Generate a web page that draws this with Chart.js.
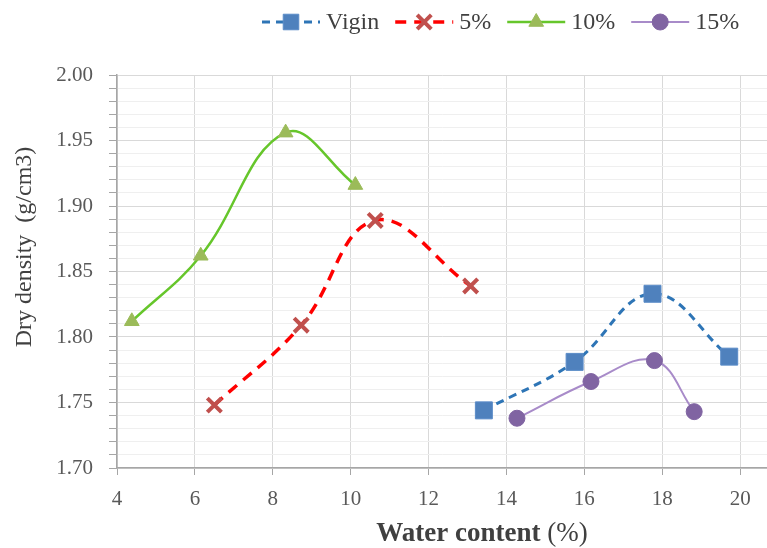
<!DOCTYPE html>
<html>
<head>
<meta charset="utf-8">
<script src="https://cdn.jsdelivr.net/npm/chart.js@4.4.1/dist/chart.umd.min.js"></script>
<style>
  html, body { margin: 0; padding: 0; background: #fff; }
  #wrap { width: 767px; height: 548px; }
</style>
</head>
<body>
<div id="wrap"><canvas id="chart" width="767" height="548"></canvas></div>
<script>
// series
const seriesNames = ['Vigin', '5%', '10%', '15%'];
const vigX = [13.42, 15.75, 17.75, 19.72];
const vigY = [1.744, 1.781, 1.833, 1.785];
const p5X = [6.5, 8.73, 10.63, 13.08];
const p5Y = [1.748, 1.809, 1.889, 1.839];
const p10X = [4.38, 6.15, 8.33, 10.12];
const p10Y = [1.812, 1.862, 1.956, 1.916];
const p15X = [14.27, 16.17, 17.8, 18.82];
const p15Y = [1.738, 1.766, 1.782, 1.743];

const xTicks = [4, 6, 8, 10, 12, 14, 16, 18, 20];
const yTicks = ['1.70', '1.75', '1.80', '1.85', '1.90', '1.95', '2.00'];

const xTitleBold = 'Water content';
const xTitleRest = ' (%)';
const yTitle = 'Dry density  (g/cm3)';

const serif = '"Liberation Serif", "Times New Roman", serif';

function pts(xs, ys) {
  return xs.map((x, i) => ({ x: x, y: ys[i] }));
}

const datasets = [
  {
    label: seriesNames[0], data: pts(vigX, vigY),
    borderColor: '#2E75B6', borderWidth: 3, borderDash: [8, 6],
    pointStyle: 'rect', pointRadius: 12, pointBackgroundColor: '#4F81BD',
    pointBorderColor: '#5B8CC8', pointBorderWidth: 1
  },
  {
    label: seriesNames[1], data: pts(p5X, p5Y),
    borderColor: '#FF0000', borderWidth: 3.5, borderDash: [11, 8],
    pointStyle: 'crossRot', pointRadius: 10, pointBackgroundColor: '#C0504D',
    pointBorderColor: '#C0504D', pointBorderWidth: 4
  },
  {
    label: seriesNames[2], data: pts(p10X, p10Y),
    borderColor: '#66C62B', borderWidth: 2.5, borderDash: [],
    pointStyle: 'triangle', pointRadius: 8.5, pointBackgroundColor: '#9BBB59',
    pointBorderColor: '#9BBB59', pointBorderWidth: 1
  },
  {
    label: seriesNames[3], data: pts(p15X, p15Y),
    borderColor: '#A88BC9', borderWidth: 2, borderDash: [],
    pointStyle: 'circle', pointRadius: 8, pointBackgroundColor: '#8064A2',
    pointBorderColor: '#8064A2', pointBorderWidth: 1
  }
];
datasets.forEach(d => {
  d.showLine = true;
  d.tension = 0.4;
  d.fill = false;
  d.pointHoverRadius = d.pointRadius;
});

// legend + axis titles drawn on the canvas
const extras = {
  id: 'extras',
  afterDraw(chart) {
    const ctx = chart.ctx;
    ctx.save();

    // legend
    ctx.font = '24px ' + serif;
    ctx.textBaseline = 'middle';
    let x = 262;
    const ly = 22;
    chart.data.datasets.forEach(ds => {
      const lw = 58;
      ctx.strokeStyle = ds.borderColor;
      ctx.lineWidth = ds.borderWidth;
      ctx.setLineDash(ds.borderDash);
      ctx.beginPath();
      ctx.moveTo(x, ly);
      ctx.lineTo(x + lw, ly);
      ctx.stroke();
      ctx.setLineDash([]);
      ctx.fillStyle = ds.pointBackgroundColor;
      ctx.strokeStyle = ds.pointBorderColor;
      ctx.lineWidth = ds.pointBorderWidth;
      const r = ds.pointStyle === 'rect' ? 11 : ds.pointRadius;
      Chart.helpers.drawPoint(ctx, { pointStyle: ds.pointStyle, radius: r, borderWidth: ds.pointBorderWidth, rotation: 0 }, x + lw / 2, ly);
      ctx.fillStyle = '#404040';
      ctx.textAlign = 'left';
      ctx.fillText(ds.label, x + lw + 6, ly + 1);
      x += lw + 6 + ctx.measureText(ds.label).width + 16;
    });

    // x title: bold part + normal part
    ctx.fillStyle = '#404040';
    ctx.textBaseline = 'middle';
    ctx.font = 'bold 27px ' + serif;
    const wb = ctx.measureText(xTitleBold).width;
    ctx.font = '27px ' + serif;
    const wr = ctx.measureText(xTitleRest).width;
    const tx = 482 - (wb + wr) / 2;
    ctx.textAlign = 'left';
    ctx.font = 'bold 27px ' + serif;
    ctx.fillText(xTitleBold, tx, 534);
    ctx.font = '27px ' + serif;
    ctx.fillText(xTitleRest, tx + wb, 534);

    // y title
    ctx.translate(25, 247);
    ctx.rotate(-Math.PI / 2);
    ctx.textAlign = 'center';
    ctx.font = '24px ' + serif;
    ctx.fillText(yTitle, 0, 0);
    ctx.restore();
  }
};

function isMajorY(v) {
  return Math.round(v * 100) % 5 === 0;
}

new Chart(document.getElementById('chart').getContext('2d'), {
  type: 'scatter',
  data: { datasets: datasets },
  options: {
    responsive: false,
    animation: false,
    layout: { autoPadding: false, padding: { top: 75, right: 0, left: 0, bottom: 0 } },
    plugins: {
      legend: { display: false },
      tooltip: { enabled: false }
    },
    scales: {
      x: {
        type: 'linear',
        min: xTicks[0],
        max: 20.69,
        afterBuildTicks(scale) {
          scale.ticks = xTicks.map(v => ({ value: v }));
        },
        afterFit(scale) {
          scale.height = 80;
          scale.paddingLeft = 0;
          scale.paddingRight = 0;
        },
        ticks: {
          includeBounds: false,
          autoSkip: false,
          maxRotation: 0,
          padding: 12,
          color: '#595959',
          font: { family: serif, size: 21 },
          callback: v => String(v)
        },
        grid: { color: '#D9D9D9', lineWidth: 1, tickLength: 7, tickColor: '#A6A6A6' },
        border: { color: '#A6A6A6', width: 1.5 }
      },
      y: {
        min: 1.70,
        max: 2.00,
        afterBuildTicks(scale) {
          const t = [];
          for (let i = 170; i <= 200; i++) t.push({ value: i / 100 });
          scale.ticks = t;
        },
        afterFit(scale) {
          scale.width = 117;
          scale.paddingTop = 0;
          scale.paddingBottom = 0;
        },
        ticks: {
          autoSkip: false,
          padding: 16,
          color: '#595959',
          font: { family: serif, size: 21 },
          callback: v => (isMajorY(v) ? yTicks[Math.round(v * 100 - 170) / 5] : '')
        },
        grid: {
          color: c => (isMajorY(c.tick.value) ? '#D9D9D9' : '#EFEFEF'),
          lineWidth: 1,
          tickLength: 8,
          tickColor: '#A6A6A6'
        },
        border: { color: '#A6A6A6', width: 1.5 }
      }
    }
  },
  plugins: [extras]
});
</script>
</body>
</html>
